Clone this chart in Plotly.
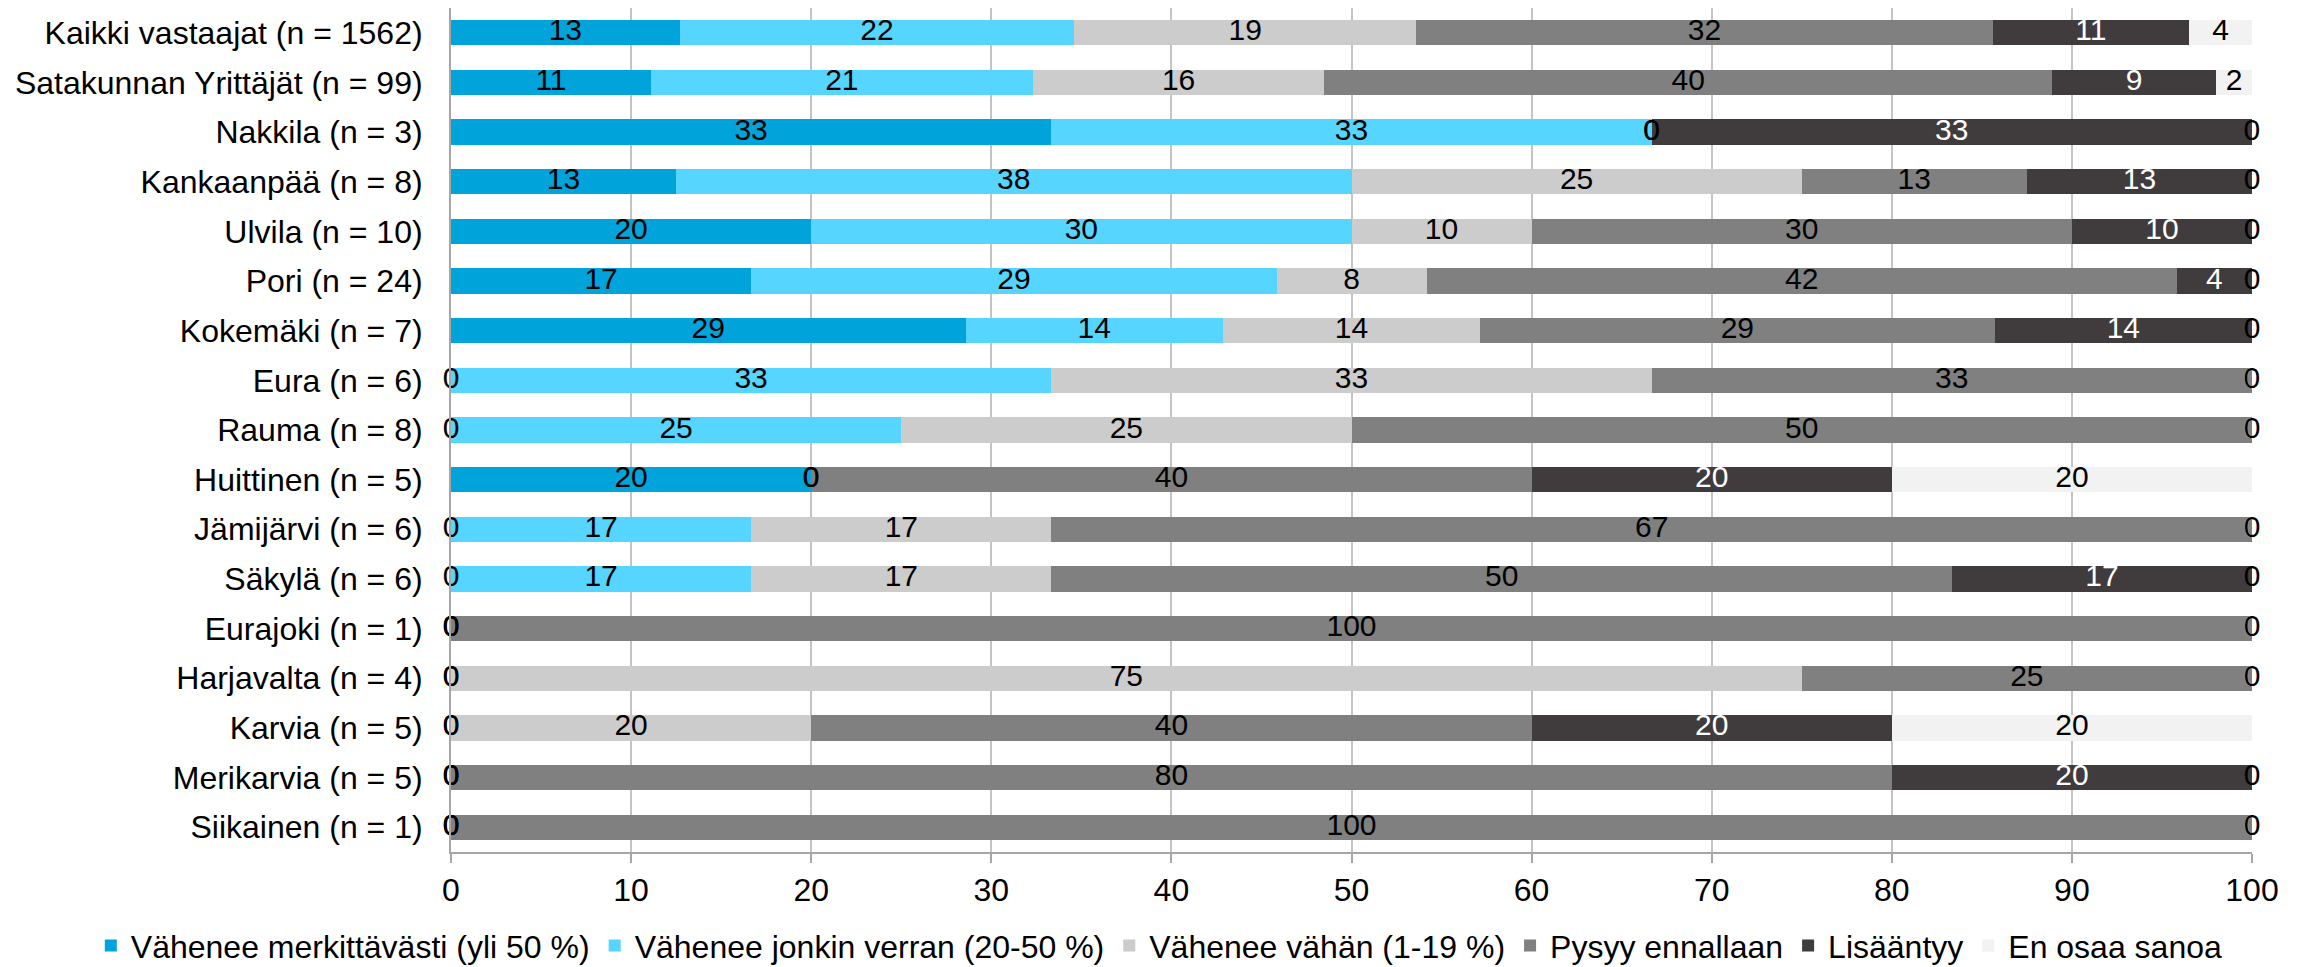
import math
import plotly.graph_objects as go

categories = [
    "Kaikki vastaajat (n = 1562)",
    "Satakunnan Yrittäjät (n = 99)",
    "Nakkila (n = 3)",
    "Kankaanpää (n = 8)",
    "Ulvila (n = 10)",
    "Pori (n = 24)",
    "Kokemäki (n = 7)",
    "Eura (n = 6)",
    "Rauma (n = 8)",
    "Huittinen (n = 5)",
    "Jämijärvi (n = 6)",
    "Säkylä (n = 6)",
    "Eurajoki (n = 1)",
    "Harjavalta (n = 4)",
    "Karvia (n = 5)",
    "Merikarvia (n = 5)",
    "Siikainen (n = 1)",
]

series_names = [
    "Vähenee merkittävästi (yli 50 %)",
    "Vähenee jonkin verran (20-50 %)",
    "Vähenee vähän (1-19 %)",
    "Pysyy ennallaan",
    "Lisääntyy",
    "En osaa sanoa",
]

merkittavasti = [12.7, 11.1, 33.33, 12.5, 20, 16.67, 28.57, 0, 0, 20, 0, 0, 0, 0, 0, 0, 0]
jonkin_verran = [21.9, 21.2, 33.33, 37.5, 30, 29.17, 14.29, 33.33, 25, 0, 16.67, 16.67, 0, 0, 0, 0, 0]
vahan = [19.0, 16.2, 0, 25, 10, 8.33, 14.28, 33.33, 25, 0, 16.67, 16.67, 0, 75, 20, 0, 0]
pysyy = [32.0, 40.4, 0, 12.5, 30, 41.66, 28.57, 33.33, 50, 40, 66.66, 50, 100, 25, 40, 80, 100]
lisaantyy = [10.9, 9.1, 33.33, 12.5, 10, 4.17, 14.29, 0, 0, 20, 0, 16.66, 0, 0, 20, 20, 0]
en_osaa = [3.5, 2.0, 0, 0, 0, 0, 0, 0, 0, 20, 0, 0, 0, 0, 20, 0, 0]

series_values = [merkittavasti, jonkin_verran, vahan, pysyy, lisaantyy, en_osaa]
colors = ["#00A3DA", "#55D5FF", "#CCCCCC", "#808080", "#403B3C", "#F2F2F2"]
label_colors = ["black", "black", "black", "black", "white", "black"]

x_ticks = [0, 10, 20, 30, 40, 50, 60, 70, 80, 90, 100]

REG = "Liberation Sans, Arial, sans-serif"

fig = go.Figure()
for name, vals, col in zip(series_names, series_values, colors):
    fig.add_trace(go.Bar(
        y=categories, x=vals, name=name, orientation="h",
        marker=dict(color=col, line=dict(width=0)),
        hoverinfo="x+name",
    ))

# data labels at segment centres
cum = [0.0] * len(categories)
for name, vals, lc in zip(series_names, series_values, label_colors):
    centers = [min(100.0, max(0.0, c + v / 2)) for c, v in zip(cum, vals)]
    texts = [str(int(math.floor(v + 0.5))) for v in vals]
    fig.add_trace(go.Scatter(
        y=categories, x=centers, mode="text", text=texts,
        textposition="middle center",
        textfont=dict(family=REG, size=30, color=lc),
        showlegend=False, hoverinfo="skip", cliponaxis=False,
    ))
    cum = [c + v for c, v in zip(cum, vals)]

# page body has an 8px default margin, so the figure is sized/offset for it
fig.update_layout(
    barmode="stack",
    bargap=0.49,
    width=2299, height=959,
    margin=dict(l=443, r=55, t=0, b=115, autoexpand=False),
    paper_bgcolor="white", plot_bgcolor="white",
    font=dict(family=REG, size=32, color="black"),
    legend=dict(
        orientation="h", x=-0.2, xanchor="left", y=-0.111, yanchor="middle",
        font=dict(family=REG, size=32, color="black"),
        traceorder="normal", itemwidth=30,
        tracegroupgap=0,
    ),
    xaxis=dict(
        range=[0, 100], tickvals=x_ticks, ticktext=[str(t) for t in x_ticks],
        showgrid=True, gridcolor="#C4C4C4", gridwidth=2,
        showline=True, linecolor="#A6A6A6", linewidth=2,
        ticks="outside", ticklen=9, tickcolor="#A6A6A6", tickwidth=2,
        tickfont=dict(family=REG, size=32), zeroline=False, fixedrange=True,
    ),
    yaxis=dict(
        range=[len(categories) - 0.5, -0.5], showgrid=False, showline=True,
        linecolor="#A6A6A6", linewidth=2, ticks="", ticklabelstandoff=20,
        tickfont=dict(family=REG, size=32), fixedrange=True,
    ),
)

fig.write_html("out.html")
